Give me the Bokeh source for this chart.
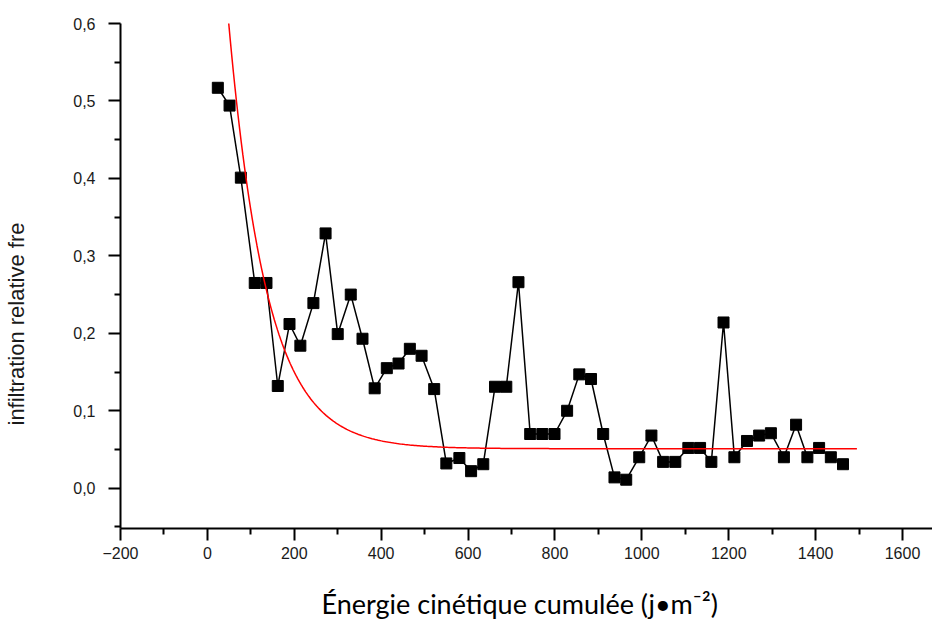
from bokeh.plotting import figure
from bokeh.models import ColumnDataSource, FixedTicker, CustomJSTickFormatter, Range1d, Title
from bokeh.embed import file_html
from bokeh.resources import INLINE
import numpy as np

# Measured data (cumulative kinetic energy vs relative infiltration)
energy = [24, 51, 77, 109, 136, 162, 189, 214, 244, 272, 300, 330, 357, 385, 413,
          440, 466, 493, 522, 550, 580, 607, 635, 662, 688, 716, 743, 771, 799, 828,
          856, 883, 911, 937, 964, 994, 1022, 1049, 1077, 1107, 1134, 1160, 1188,
          1213, 1242, 1270, 1297, 1327, 1355, 1381, 1408, 1435, 1463]
infiltration = [0.517, 0.494, 0.401, 0.265, 0.265, 0.132, 0.212, 0.184, 0.239, 0.329,
                0.199, 0.250, 0.193, 0.129, 0.155, 0.161, 0.180, 0.171, 0.128, 0.032,
                0.039, 0.022, 0.031, 0.131, 0.131, 0.266, 0.070, 0.070, 0.070, 0.100,
                0.147, 0.141, 0.070, 0.014, 0.011, 0.040, 0.068, 0.034, 0.034, 0.052,
                0.052, 0.034, 0.214, 0.040, 0.061, 0.068, 0.071, 0.040, 0.082, 0.040,
                0.052, 0.040, 0.031]

# Exponential-decay fit shown in red (parameters)
fit_y0 = 0.051
fit_A = 0.55
fit_x0 = 49
fit_t = 88
fit_xmin, fit_xmax = 49, 1495

x_major = [-200, 0, 200, 400, 600, 800, 1000, 1200, 1400, 1600]
x_minor = [-100, 100, 300, 500, 700, 900, 1100, 1300, 1500]
y_major = [0.0, 0.1, 0.2, 0.3, 0.4, 0.5, 0.6]
y_minor = [-0.05, 0.05, 0.15, 0.25, 0.35, 0.45, 0.55]

x_title = "Énergie cinétique cumulée (j•m⁻²)"
y_title = "infiltration relative fre"

fit_x = np.linspace(fit_xmin, fit_xmax, 400)
fit_yv = fit_y0 + fit_A * np.exp(-(fit_x - fit_x0) / fit_t)

p = figure(width=932, height=619, output_backend="svg", toolbar_location=None,
           x_range=Range1d(-200, 1669), y_range=Range1d(-0.052, 0.6),
           min_border_left=120, min_border_right=0, min_border_top=23,
           min_border_bottom=91)
p.outline_line_color = None
p.xgrid.visible = False
p.ygrid.visible = False

src = ColumnDataSource(dict(x=energy, y=infiltration))
p.line("x", "y", source=src, line_color="black", line_width=1.5)
p.scatter("x", "y", source=src, marker="square", size=11, fill_color="black",
          line_color="black")
p.line(fit_x, fit_yv, line_color="red", line_width=1.5)

for ax in (p.xaxis[0], p.yaxis[0]):
    ax.axis_line_width = 2
    ax.axis_line_color = "black"
    ax.major_tick_line_width = 2
    ax.minor_tick_line_width = 2
    ax.major_tick_line_color = "black"
    ax.minor_tick_line_color = "black"
    ax.major_tick_out = 12
    ax.major_tick_in = 0
    ax.minor_tick_out = 6
    ax.minor_tick_in = 0
    ax.major_label_text_font = "Liberation Sans"
    ax.major_label_text_font_size = "16px"
    ax.major_label_text_color = "#1a1a1a"
    # blank axis label used only as spacing before the real titles
    ax.axis_label = " "
    ax.axis_label_text_font_size = "1px"

p.xaxis[0].ticker = FixedTicker(ticks=x_major, minor_ticks=x_minor)
p.yaxis[0].ticker = FixedTicker(ticks=y_major, minor_ticks=y_minor)
p.yaxis[0].formatter = CustomJSTickFormatter(code="return tick.toFixed(1).replace('.', ',');")
p.xaxis[0].major_label_standoff = 6
p.yaxis[0].major_label_standoff = 13
p.xaxis[0].axis_label_standoff = 19
p.yaxis[0].axis_label_standoff = 38

ylab = Title(text=y_title, align="left", offset=103, standoff=0,
             text_font="Liberation Sans", text_font_size="22px",
             text_font_style="normal", text_color="#1a1a1a")
xlab = Title(text=x_title, align="left", offset=201, standoff=0,
             text_font="Lato", text_font_size="27px",
             text_font_style="normal", text_color="black")
p.add_layout(ylab, "left")
p.add_layout(xlab, "below")

open("out.html", "w").write(file_html(p, INLINE))
